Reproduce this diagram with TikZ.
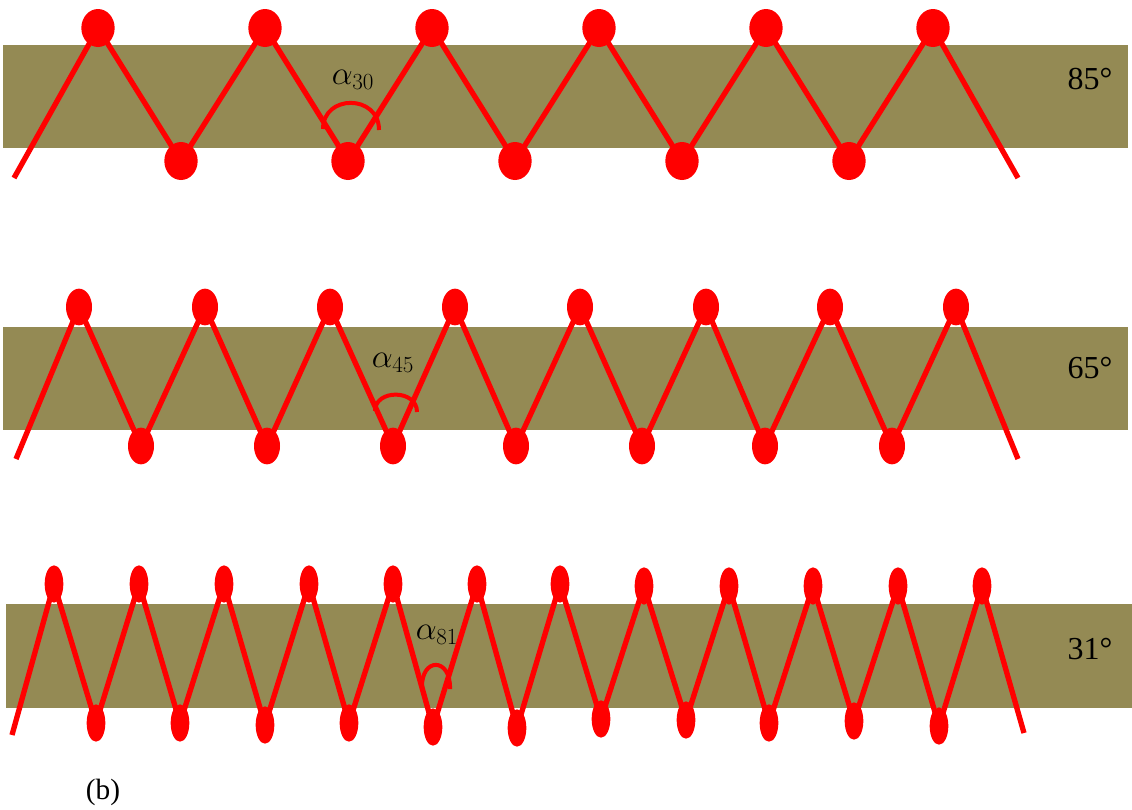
\documentclass[tikz,border=0pt]{standalone}
\usepackage{fontspec}
\setmainfont{Liberation Serif}
\usetikzlibrary{shapes.geometric}
\definecolor{bandcol}{RGB}{148,138,84}
\tikzset{
  band/.style={fill=bandcol,draw=none},
  wire/.style={draw=red,line width=4pt,line join=miter},
  anglearc/.style={draw=red,line width=3pt},
  dotA/.style={ellipse,fill=red,draw=none,inner sep=0pt,minimum width=25pt,minimum height=28.5pt},
  dotB/.style={ellipse,fill=red,draw=none,inner sep=0pt,minimum width=19.5pt,minimum height=27.5pt},
  dotC/.style={ellipse,fill=red,draw=none,inner sep=0pt,minimum width=14pt,minimum height=28pt},
  anglelbl/.style={font=\fontsize{26}{30}\selectfont,inner sep=0pt},
  deglbl/.style={font=\fontsize{24}{28}\selectfont,inner sep=0pt},
}
\begin{document}
\begin{tikzpicture}[x=0.75pt,y=-0.75pt]
\useasboundingbox (0,0) rectangle (1132,810);
% bands
\fill[band] (3,45) rectangle (1128,148);
\fill[band] (3,327) rectangle (1128,430);
\fill[band] (6,604) rectangle (1132,708);
% ---------- row 1 ----------
\foreach \i/\x in {1/98,2/265,3/432,4/599,5/766,6/933} \coordinate (pa\i) at (\x,28);
\foreach \i/\x in {1/181,2/348,3/515,4/682,5/849} \coordinate (qa\i) at (\x,161);
\coordinate (sa) at (14,178);
\coordinate (ea) at (1018,178);
\draw[wire] (sa) -- (pa1) -- (qa1) -- (pa2) -- (qa2) -- (pa3) -- (qa3) -- (pa4) -- (qa4) -- (pa5) -- (qa5) -- (pa6) -- (ea);
\foreach \i in {1,...,6} \node[dotA] (TA\i) at (pa\i) {};
\foreach \i in {1,...,5} \node[dotA] (BA\i) at (qa\i) {};
% ---------- row 2 ----------
\foreach \i/\x in {1/79,2/205,3/330,4/455,5/580,6/706,7/830,8/956} \coordinate (pb\i) at (\x,307);
\foreach \i/\x in {1/141,2/267,3/393,4/516,5/642,6/765,7/892} \coordinate (qb\i) at (\x,446);
\coordinate (sb) at (16,459);
\coordinate (eb) at (1018,459);
\draw[wire] (sb) -- (pb1) -- (qb1) -- (pb2) -- (qb2) -- (pb3) -- (qb3) -- (pb4) -- (qb4) -- (pb5) -- (qb5) -- (pb6) -- (qb6) -- (pb7) -- (qb7) -- (pb8) -- (eb);
\foreach \i in {1,...,8} \node[dotB] (TB\i) at (pb\i) {};
\foreach \i in {1,...,7} \node[dotB] (BB\i) at (qb\i) {};
% ---------- row 3 ----------
\foreach \i/\x/\y in {1/54/584,2/139/584,3/224/584,4/309/584,5/393/584,6/477/584,7/560/584,8/644/586,9/729/586,10/813/586,11/898/586,12/982/586} \coordinate (pc\i) at (\x,\y);
\foreach \i/\x/\y in {1/96/723,2/180/723,3/265/725,4/349/723,5/433/727,6/517/728,7/601/719,8/686/720,9/769/723,10/854/721,11/939/726} \coordinate (qc\i) at (\x,\y);
\coordinate (sc) at (12,735);
\coordinate (ec) at (1024,733);
\draw[wire] (sc) -- (pc1) -- (qc1) -- (pc2) -- (qc2) -- (pc3) -- (qc3) -- (pc4) -- (qc4) -- (pc5) -- (qc5) -- (pc6) -- (qc6) -- (pc7) -- (qc7) -- (pc8) -- (qc8) -- (pc9) -- (qc9) -- (pc10) -- (qc10) -- (pc11) -- (qc11) -- (pc12) -- (ec);
\foreach \i in {1,...,12} \node[dotC] (TC\i) at (pc\i) {};
\foreach \i in {1,...,11} \node[dotC] (BC\i) at (qc\i) {};
% ---------- angle arcs ----------
\coordinate (a1l) at (323,129);
\coordinate (a1r) at (379,130);
\draw[anglearc] (a1l) .. controls (323,94) and (379,94) .. (a1r);
\coordinate (a2l) at (375,411);
\coordinate (a2r) at (417,412);
\draw[anglearc] (a2l) .. controls (375,389) and (417,389) .. (a2r);
\coordinate (a3l) at (422,688);
\coordinate (a3r) at (450,689);
\draw[anglearc] (a3l) .. controls (421,657) and (451,657) .. (a3r);
% ---------- labels ----------
\node[anglelbl] (L30) at (353,80) {$\alpha_{30}$};
\node[anglelbl] (L45) at (393,363) {$\alpha_{45}$};
\node[anglelbl] (L81) at (437,635) {$\alpha_{81}$};
\node[deglbl] (D85) at (1090,79) {85°};
\node[deglbl] (D65) at (1090,368) {65°};
\node[deglbl] (D31) at (1090,649) {31°};
\node[font=\fontsize{22}{26}\selectfont,inner sep=0pt] (lb) at (103,792) {(b)};
\end{tikzpicture}
\end{document}
